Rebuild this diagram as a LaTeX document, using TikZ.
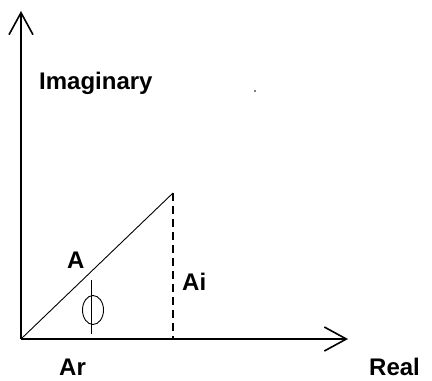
\documentclass[tikz,border=0pt]{standalone}
\usepackage{fontspec}
\setmainfont{Liberation Sans}
\usetikzlibrary{arrows.meta,positioning,calc}

\begin{document}
\begin{tikzpicture}[
  x=1pt, y=-1pt,
  lbl/.style={font=\bfseries\fontsize{24}{29}\selectfont, inner sep=0pt, anchor=base west},
  axis/.style={-{Straight Barb[length=22pt, width=24pt]}, line width=1.6pt},
  vec/.style={line width=0.9pt},
  proj/.style={line width=1.3pt, dash pattern=on 8pt off 5pt}
]
\useasboundingbox (0,0) rectangle (432,381);
% axes and phasor corners
\coordinate (o) at (21,339);
\coordinate (ytop) at (21,11);
\coordinate (xend) at (348,339);
\coordinate (tip) at (173,193);
\coordinate (foot) at (173,339);
\draw[axis] (o) -- (ytop);
\draw[axis] (o) -- (xend);
\draw[vec] (o) -- (tip);
\draw[proj] (tip) -- (foot);
% labels
\node[lbl] (imag) at (39,89) {Imaginary};
\node[lbl] (real) at (369,375) {Real};
\node[lbl] (amp) at (67,268) {A};
\node[lbl] (ai) at (182,290) {Ai};
\node[lbl] (ar) at (59,375) {Ar};
% angle mark
\draw[line width=0.9pt] (93,310) ellipse (10.5 and 14.5);
\draw[line width=0.9pt] (91,280) -- (91,334);
\fill (255,91) circle (0.8);
\end{tikzpicture}
\end{document}
